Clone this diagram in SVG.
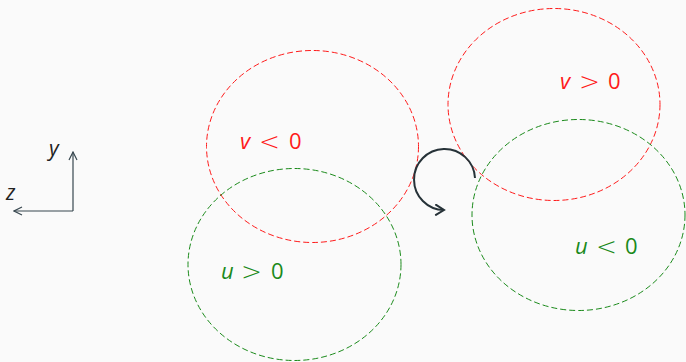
<svg xmlns="http://www.w3.org/2000/svg" width="686" height="362" viewBox="0 0 686 362">
<style>
.red{fill:none;stroke:#ff1a1a;stroke-width:1;stroke-dasharray:6,3}
.green{fill:none;stroke:#1a8a1a;stroke-width:1;stroke-dasharray:6,3}
.lbl{font-family:"Open Sans","Liberation Sans",sans-serif;font-size:22px}
.it{font-style:italic}
.rel{font-family:"DejaVu Sans",sans-serif;font-weight:200;font-size:25px}
.ax{fill:none;stroke:#37474f;stroke-width:1.2}
.axl{font-family:"Open Sans","Liberation Sans",sans-serif;font-size:21px;font-style:italic;fill:#222}
</style>
<defs>
<marker id="open" viewBox="0 0 10 10" refX="9" refY="5" markerWidth="10" markerHeight="10" markerUnits="userSpaceOnUse" orient="auto">
<path d="M1,1 L9,5 L1,9" fill="none" stroke="#37474f" stroke-width="1.2"/>
</marker>
<marker id="rot" viewBox="0 0 12 12" refX="10" refY="6" markerWidth="12" markerHeight="12" markerUnits="userSpaceOnUse" orient="auto">
<path d="M2,1 L10,6 L2,11" fill="none" stroke="#263238" stroke-width="2" stroke-linecap="round"/>
</marker>
</defs>
<rect width="686" height="362" fill="#fafafa"/>
<g id="axes">
<path class="ax" d="M73,211 L73,152" marker-end="url(#open)"/>
<path class="ax" d="M73,211 L14,211" marker-end="url(#open)"/>
<text class="axl" x="49" y="156">y</text>
<text class="axl" x="6" y="200">z</text>
</g>
<g id="v-neg" fill="#ff1a1a">
<ellipse class="red" cx="312.5" cy="146.5" rx="106" ry="96"/>
<text class="lbl it" x="240" y="149">v</text>
<text class="rel" x="259" y="150">&lt;</text>
<text class="lbl" x="289" y="149">0</text>
</g>
<g id="u-pos" fill="#1a8a1a">
<ellipse class="green" cx="294.5" cy="264.5" rx="106.5" ry="96"/>
<text class="lbl it" x="221" y="279">u</text>
<text class="rel" x="241" y="280">&gt;</text>
<text class="lbl" x="271" y="279">0</text>
</g>
<g id="v-pos" fill="#ff1a1a">
<ellipse class="red" cx="554" cy="104.5" rx="106" ry="96"/>
<text class="lbl it" x="560" y="89">v</text>
<text class="rel" x="579" y="90">&gt;</text>
<text class="lbl" x="608" y="89">0</text>
</g>
<g id="u-neg" fill="#1a8a1a">
<ellipse class="green" cx="578.5" cy="215" rx="106.5" ry="95.5"/>
<text class="lbl it" x="575" y="254">u</text>
<text class="rel" x="596" y="255">&lt;</text>
<text class="lbl" x="625" y="254">0</text>
</g>
<g id="connectors">
<path d="M475,178 A30.5,30.5 0 1 0 444,210" fill="none" stroke="#263238" stroke-width="2" marker-end="url(#rot)"/>
</g>
</svg>
